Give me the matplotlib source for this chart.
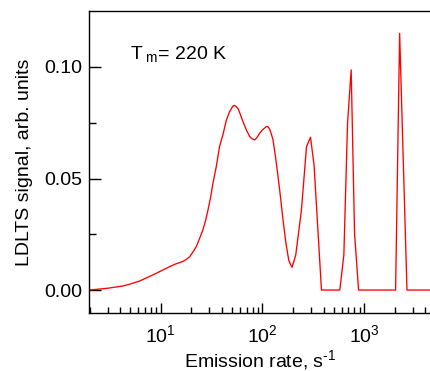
import matplotlib
matplotlib.use('Agg')
import matplotlib.pyplot as plt
from matplotlib.ticker import FixedLocator, LogLocator, NullFormatter

plt.rcParams['font.family'] = ['Liberation Sans', 'DejaVu Sans']
plt.rcParams['mathtext.fontset'] = 'custom'
plt.rcParams['mathtext.rm'] = 'Liberation Sans'
plt.rcParams['mathtext.it'] = 'Liberation Sans'

# emission rate (s^-1) and LDLTS signal (arb. units)
rate = [1.98, 3.0, 4.23, 5.0, 6.17, 7.5, 9.01, 10.5, 12.2, 14.0, 16.5,
        17.5, 19.2, 20.5, 22.3, 24.0, 25.9, 27.5, 29.1, 31.0, 32.5, 35.0,
        37.8, 41.0, 44.1, 47.5, 51.2, 53.0, 55.3, 58.0, 64.3, 69.0, 74.8,
        79.0, 83.8, 88.0, 93.8, 100.0, 109.2, 113.0, 117.8, 122.0, 126.9,
        134.0, 142.2, 150.0, 159.2, 170.0, 181.0, 187.0, 195.3, 212.3, 241.6,
        270.9, 296.6, 321.4, 352.3, 380, 576, 631, 686, 745, 804, 881,
        2037, 2232, 2636, 4440]
signal = [0.0, 0.0008, 0.0018, 0.0027, 0.0040, 0.0058, 0.0075, 0.0090,
          0.0105, 0.0117, 0.0128, 0.0135, 0.0149, 0.0168, 0.0194, 0.0230,
          0.0269, 0.0310, 0.0359, 0.0420, 0.0478, 0.0550, 0.0643, 0.0700,
          0.0762, 0.0800, 0.0825, 0.0828, 0.0822, 0.0810, 0.0755, 0.0720,
          0.0688, 0.0678, 0.0673, 0.0683, 0.0703, 0.0718, 0.0733, 0.0732,
          0.0721, 0.0700, 0.0673, 0.0600, 0.0509, 0.0420, 0.0314, 0.0210,
          0.0135, 0.0118, 0.0102, 0.0157, 0.0359, 0.0643, 0.0685, 0.0560,
          0.0254, 0.0, 0.0, 0.0157, 0.0747, 0.0987, 0.0254, 0.0,
          0.0, 0.1151, 0.0, 0.0]

fig = plt.figure(figsize=(4.3, 3.71), dpi=100)
ax = fig.add_axes([0.2077, 0.1563, 0.7923, 0.8141])
ax.plot(rate, signal, color='red', lw=0.95)

ax.set_xscale('log')
ax.set_xlim(1.98, 4440)
ax.set_ylim(-0.0103, 0.1251)
ax.spines['right'].set_visible(False)
for s in ['left', 'bottom', 'top']:
    ax.spines[s].set_linewidth(1.0)

ax.set_yticks([0.0, 0.05, 0.10])
ax.set_yticklabels(['0.00', '0.05', '0.10'])
ax.yaxis.set_minor_locator(FixedLocator([0.025, 0.075]))
ax.xaxis.set_major_locator(LogLocator(base=10, numticks=10))
ax.xaxis.set_minor_locator(LogLocator(base=10, subs=range(2, 10), numticks=20))
ax.xaxis.set_minor_formatter(NullFormatter())

ax.tick_params(axis='both', which='both', direction='in', labelsize=14, width=1.0)
ax.tick_params(axis='x', which='major', length=7.2, pad=8, top=False)
ax.tick_params(axis='x', which='minor', length=4, top=False)
ax.tick_params(axis='y', which='major', length=8.6, pad=5)
ax.tick_params(axis='y', which='minor', length=5)

ax.set_xlabel(r'Emission rate, s$^{\text{-1}}$', fontsize=14, labelpad=1.5)
ax.set_ylabel('LDLTS signal, arb. units', fontsize=14, labelpad=8)

ax.text(0.12, 0.84, r'T$_{\rm\ m}$= 220 K', transform=ax.transAxes, fontsize=14)

fig.savefig('out.png', dpi=100)
